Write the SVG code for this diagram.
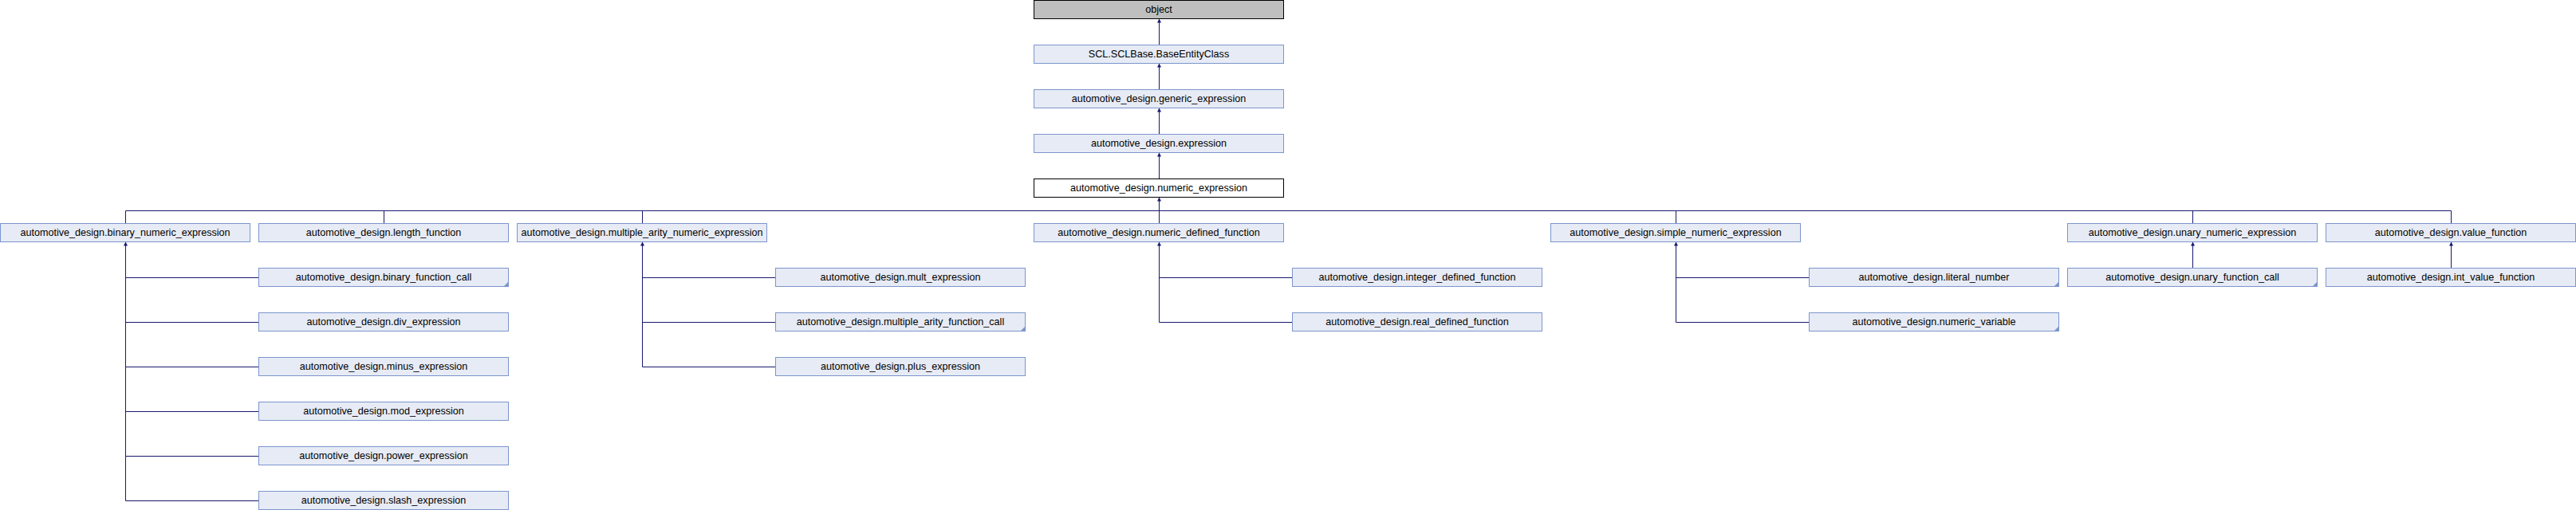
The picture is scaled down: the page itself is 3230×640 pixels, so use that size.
<svg xmlns="http://www.w3.org/2000/svg" width="3230" height="640" viewBox="0 0 3230 640">
<style>
.n rect{fill:#e7ebf5;stroke:#7c95cd;stroke-width:1}
.n.cur rect{fill:#ffffff;stroke:#000000}
.n.root rect{fill:#bfbfbf;stroke:#000000}
.n text{font-family:"Liberation Sans",Arial,sans-serif;font-size:12.6px;fill:#000000;text-anchor:middle}
.n polygon{fill:#7c95cd}
#edges path{fill:none;stroke:#191970;stroke-width:1}
#edges path.a{marker-end:url(#arr)}
</style>
<defs>
<marker id="arr" markerUnits="userSpaceOnUse" markerWidth="6" markerHeight="6" refX="5" refY="2.5" orient="auto">
<path d="M0,0 L5,2.5 L0,5 z" fill="#191970"/>
</marker>
</defs>
<rect x="0" y="0" width="3230" height="640" fill="#ffffff"/>
<g id="edges">
<path class="a" d="M1453.5,56.5 V23.5"/>
<path class="a" d="M1453.5,112.5 V79.5"/>
<path class="a" d="M1453.5,168.5 V135.5"/>
<path class="a" d="M1453.5,224.5 V191.5"/>
<path class="a" d="M1453.5,264.5 V247.5"/>
<path d="M157.5,280.5 V264.5 H3073.5 V280.5"/>
<path d="M481.5,264.5 V280.5"/>
<path d="M805.5,264.5 V280.5"/>
<path d="M1453.5,264.5 V280.5"/>
<path d="M2101.5,264.5 V280.5"/>
<path d="M2749.5,264.5 V280.5"/>
<path class="a" d="M324.5,628.5 H157.5 V303.5"/>
<path d="M324.5,348.5 H157.5"/>
<path d="M324.5,404.5 H157.5"/>
<path d="M324.5,460.5 H157.5"/>
<path d="M324.5,516.5 H157.5"/>
<path d="M324.5,572.5 H157.5"/>
<path class="a" d="M972.5,460.5 H805.5 V303.5"/>
<path d="M972.5,348.5 H805.5"/>
<path d="M972.5,404.5 H805.5"/>
<path class="a" d="M1620.5,404.5 H1453.5 V303.5"/>
<path d="M1620.5,348.5 H1453.5"/>
<path class="a" d="M2268.5,404.5 H2101.5 V303.5"/>
<path d="M2268.5,348.5 H2101.5"/>
<path class="a" d="M2749.5,336.5 V303.5"/>
<path class="a" d="M3073.5,336.5 V303.5"/>
</g>
<g id="object" class="n root"><rect x="1296.5" y="0.5" width="313" height="23"/><text x="1453" y="16">object</text></g>
<g id="base_entity_class" class="n"><rect x="1296.5" y="56.5" width="313" height="23"/><text x="1453" y="72">SCL.SCLBase.BaseEntityClass</text></g>
<g id="generic_expression" class="n"><rect x="1296.5" y="112.5" width="313" height="23"/><text x="1453" y="128">automotive_design.generic_expression</text></g>
<g id="expression" class="n"><rect x="1296.5" y="168.5" width="313" height="23"/><text x="1453" y="184">automotive_design.expression</text></g>
<g id="numeric_expression" class="n cur"><rect x="1296.5" y="224.5" width="313" height="23"/><text x="1453" y="240">automotive_design.numeric_expression</text></g>
<g id="binary_numeric_expression" class="n"><rect x="0.5" y="280.5" width="313" height="23"/><text x="157" y="296">automotive_design.binary_numeric_expression</text></g>
<g id="length_function" class="n"><rect x="324.5" y="280.5" width="313" height="23"/><text x="481" y="296">automotive_design.length_function</text></g>
<g id="multiple_arity_numeric_expression" class="n"><rect x="648.5" y="280.5" width="313" height="23"/><text x="805" y="296">automotive_design.multiple_arity_numeric_expression</text></g>
<g id="numeric_defined_function" class="n"><rect x="1296.5" y="280.5" width="313" height="23"/><text x="1453" y="296">automotive_design.numeric_defined_function</text></g>
<g id="simple_numeric_expression" class="n"><rect x="1944.5" y="280.5" width="313" height="23"/><text x="2101" y="296">automotive_design.simple_numeric_expression</text></g>
<g id="unary_numeric_expression" class="n"><rect x="2592.5" y="280.5" width="313" height="23"/><text x="2749" y="296">automotive_design.unary_numeric_expression</text></g>
<g id="value_function" class="n"><rect x="2916.5" y="280.5" width="313" height="23"/><text x="3073" y="296">automotive_design.value_function</text></g>
<g id="binary_function_call" class="n"><rect x="324.5" y="336.5" width="313" height="23"/><polygon points="637.5,353.5 637.5,359.5 631.5,359.5"/><text x="481" y="352">automotive_design.binary_function_call</text></g>
<g id="div_expression" class="n"><rect x="324.5" y="392.5" width="313" height="23"/><text x="481" y="408">automotive_design.div_expression</text></g>
<g id="minus_expression" class="n"><rect x="324.5" y="448.5" width="313" height="23"/><text x="481" y="464">automotive_design.minus_expression</text></g>
<g id="mod_expression" class="n"><rect x="324.5" y="504.5" width="313" height="23"/><text x="481" y="520">automotive_design.mod_expression</text></g>
<g id="power_expression" class="n"><rect x="324.5" y="560.5" width="313" height="23"/><text x="481" y="576">automotive_design.power_expression</text></g>
<g id="slash_expression" class="n"><rect x="324.5" y="616.5" width="313" height="23"/><text x="481" y="632">automotive_design.slash_expression</text></g>
<g id="mult_expression" class="n"><rect x="972.5" y="336.5" width="313" height="23"/><text x="1129" y="352">automotive_design.mult_expression</text></g>
<g id="multiple_arity_function_call" class="n"><rect x="972.5" y="392.5" width="313" height="23"/><polygon points="1285.5,409.5 1285.5,415.5 1279.5,415.5"/><text x="1129" y="408">automotive_design.multiple_arity_function_call</text></g>
<g id="plus_expression" class="n"><rect x="972.5" y="448.5" width="313" height="23"/><text x="1129" y="464">automotive_design.plus_expression</text></g>
<g id="integer_defined_function" class="n"><rect x="1620.5" y="336.5" width="313" height="23"/><text x="1777" y="352">automotive_design.integer_defined_function</text></g>
<g id="real_defined_function" class="n"><rect x="1620.5" y="392.5" width="313" height="23"/><text x="1777" y="408">automotive_design.real_defined_function</text></g>
<g id="literal_number" class="n"><rect x="2268.5" y="336.5" width="313" height="23"/><polygon points="2581.5,353.5 2581.5,359.5 2575.5,359.5"/><text x="2425" y="352">automotive_design.literal_number</text></g>
<g id="numeric_variable" class="n"><rect x="2268.5" y="392.5" width="313" height="23"/><polygon points="2581.5,409.5 2581.5,415.5 2575.5,415.5"/><text x="2425" y="408">automotive_design.numeric_variable</text></g>
<g id="unary_function_call" class="n"><rect x="2592.5" y="336.5" width="313" height="23"/><polygon points="2905.5,353.5 2905.5,359.5 2899.5,359.5"/><text x="2749" y="352">automotive_design.unary_function_call</text></g>
<g id="int_value_function" class="n"><rect x="2916.5" y="336.5" width="313" height="23"/><text x="3073" y="352">automotive_design.int_value_function</text></g>
</svg>
